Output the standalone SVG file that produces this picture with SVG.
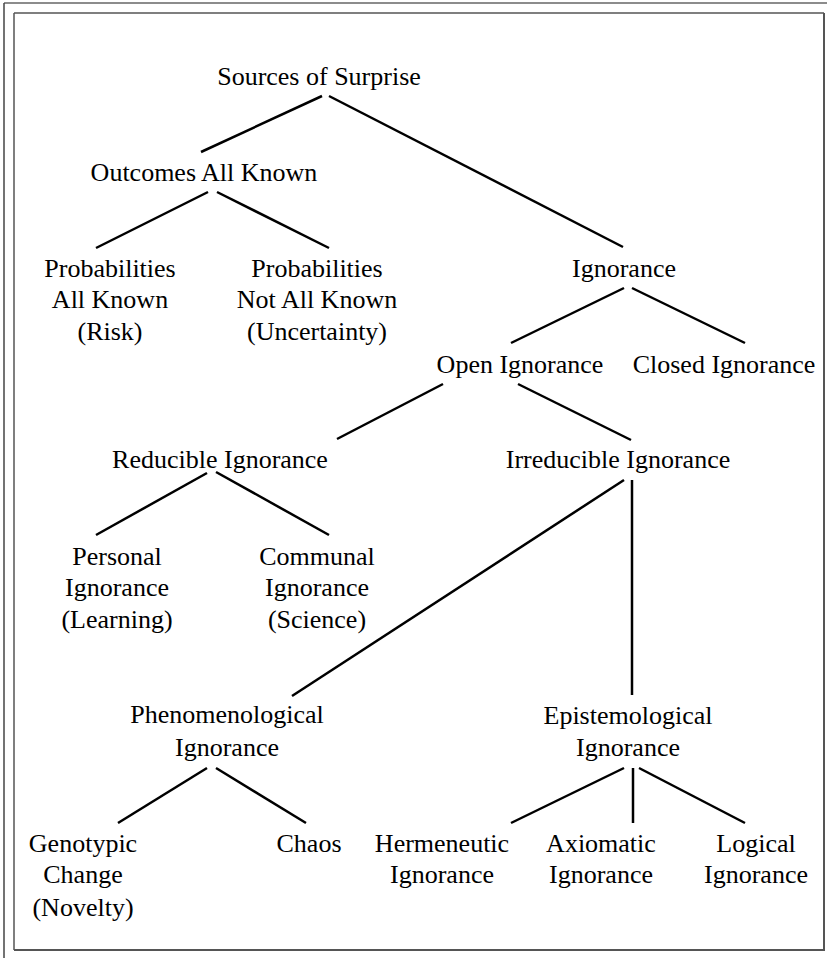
<svg xmlns="http://www.w3.org/2000/svg" width="827" height="958" viewBox="0 0 827 958">
<style>
.t{font-family:'Liberation Serif',Tinos,'Times New Roman',Times,'DejaVu Serif',serif;font-size:26px;fill:#000;text-anchor:middle}
.c line{stroke:#000;stroke-width:2.5;stroke-linecap:butt}
</style>
<rect width="827" height="958" fill="#fff"/>
<g id="frame" fill="none">
<line x1="4" y1="3" x2="827" y2="3" stroke="#666" stroke-width="1.5"/>
<line x1="4" y1="3" x2="4" y2="958" stroke="#444" stroke-width="1.5"/>
<line x1="14" y1="13" x2="824" y2="13" stroke="#000" stroke-width="1.2"/>
<line x1="14" y1="13" x2="14" y2="950" stroke="#555" stroke-width="1.5"/>
<line x1="824" y1="13" x2="824" y2="951" stroke="#555" stroke-width="2"/>
<line x1="14" y1="950" x2="825" y2="950" stroke="#555" stroke-width="2"/>
</g>
<g id="connectors" class="c">
<line x1="322" y1="96" x2="201" y2="152"/>
<line x1="329" y1="96" x2="623" y2="247"/>
<line x1="208" y1="192" x2="96" y2="248"/>
<line x1="217" y1="192" x2="329" y2="248"/>
<line x1="624" y1="288" x2="511" y2="343"/>
<line x1="632" y1="288" x2="745" y2="343"/>
<line x1="443" y1="384" x2="337" y2="439"/>
<line x1="518" y1="384" x2="631" y2="440"/>
<line x1="207" y1="473" x2="96" y2="535"/>
<line x1="216" y1="472" x2="329" y2="535"/>
<line x1="624" y1="480" x2="292" y2="696"/>
<line x1="632" y1="480" x2="632" y2="695"/>
<line x1="207" y1="768" x2="118" y2="823"/>
<line x1="216" y1="768" x2="306" y2="823"/>
<line x1="624" y1="768" x2="511" y2="823"/>
<line x1="633" y1="768" x2="633" y2="823"/>
<line x1="639" y1="768" x2="745" y2="823"/>
</g>
<g id="n-sources"><text class="t" x="319" y="85">Sources of Surprise</text></g>
<g id="n-outcomes"><text class="t" x="204" y="181">Outcomes All Known</text></g>
<g id="n-risk"><text class="t" x="110" y="277">Probabilities</text><text class="t" x="110" y="308">All Known</text><text class="t" x="110" y="340">(Risk)</text></g>
<g id="n-uncertainty"><text class="t" x="317" y="277">Probabilities</text><text class="t" x="317" y="308">Not All Known</text><text class="t" x="317" y="340">(Uncertainty)</text></g>
<g id="n-ignorance"><text class="t" x="624" y="277">Ignorance</text></g>
<g id="n-open"><text class="t" x="520" y="373">Open Ignorance</text></g>
<g id="n-closed"><text class="t" x="724" y="373">Closed Ignorance</text></g>
<g id="n-reducible"><text class="t" x="220" y="468">Reducible Ignorance</text></g>
<g id="n-irreducible"><text class="t" x="618" y="468">Irreducible Ignorance</text></g>
<g id="n-personal"><text class="t" x="117" y="565">Personal</text><text class="t" x="117" y="596">Ignorance</text><text class="t" x="117" y="628">(Learning)</text></g>
<g id="n-communal"><text class="t" x="317" y="565">Communal</text><text class="t" x="317" y="596">Ignorance</text><text class="t" x="317" y="628">(Science)</text></g>
<g id="n-phenomenological"><text class="t" x="227" y="723">Phenomenological</text><text class="t" x="227" y="756">Ignorance</text></g>
<g id="n-epistemological"><text class="t" x="628" y="724">Epistemological</text><text class="t" x="628" y="756">Ignorance</text></g>
<g id="n-genotypic"><text class="t" x="83" y="852">Genotypic</text><text class="t" x="83" y="883">Change</text><text class="t" x="83" y="916">(Novelty)</text></g>
<g id="n-chaos"><text class="t" x="309" y="852">Chaos</text></g>
<g id="n-hermeneutic"><text class="t" x="442" y="852">Hermeneutic</text><text class="t" x="442" y="883">Ignorance</text></g>
<g id="n-axiomatic"><text class="t" x="601" y="852">Axiomatic</text><text class="t" x="601" y="883">Ignorance</text></g>
<g id="n-logical"><text class="t" x="756" y="852">Logical</text><text class="t" x="756" y="883">Ignorance</text></g>
</svg>
